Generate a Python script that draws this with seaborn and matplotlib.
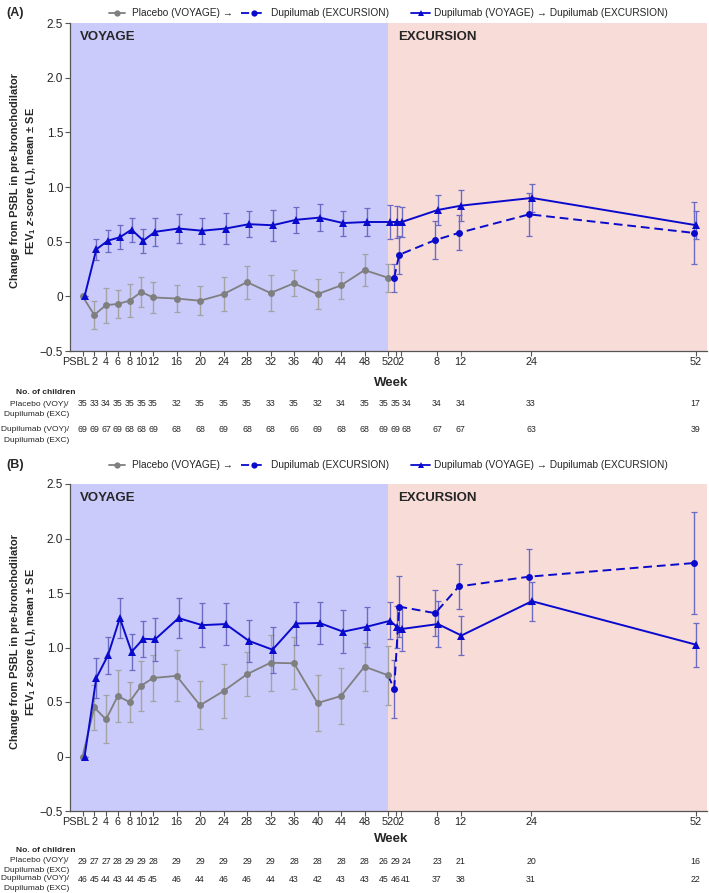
import numpy as np
import pandas as pd
import matplotlib
matplotlib.use("Agg")
import matplotlib.pyplot as plt
import matplotlib.transforms as mtransforms
from matplotlib.lines import Line2D
import seaborn as sns

# ---------------- data ----------------
voy_weeks = [0, 2, 4, 6, 8, 10, 12, 16, 20, 24, 28, 32, 36, 40, 44, 48, 52]
exc_weeks = [0, 2, 8, 12, 24, 52]
voy_labels = ['PSBL', '2', '4', '6', '8', '10', '12', '16', '20', '24', '28', '32',
              '36', '40', '44', '48', '52']
exc_labels = ['0', '2', '8', '12', '24', '52']
y_ticks = [-0.5, 0, 0.5, 1.0, 1.5, 2.0, 2.5]
y_ticklabels = ['\u22120.5', '0', '0.5', '1.0', '1.5', '2.0', '2.5']

# Panel A
a_pbo_voy = [0, -0.17, -0.08, -0.07, -0.04, 0.04, -0.01, -0.02, -0.04, 0.02, 0.13,
             0.03, 0.12, 0.02, 0.10, 0.24, 0.17]
a_pbo_voy_se = [0, 0.13, 0.16, 0.13, 0.15, 0.14, 0.14, 0.125, 0.13, 0.155, 0.15,
                0.165, 0.12, 0.135, 0.125, 0.15, 0.13]
a_dup_voy = [0, 0.43, 0.51, 0.54, 0.61, 0.51, 0.59, 0.62, 0.60, 0.62, 0.66, 0.65,
             0.70, 0.72, 0.67, 0.68, 0.68]
a_dup_voy_se = [0, 0.095, 0.10, 0.11, 0.11, 0.11, 0.13, 0.13, 0.12, 0.14, 0.12,
                0.14, 0.12, 0.12, 0.115, 0.125, 0.155]
a_dup_exc = [0.68, 0.68, 0.79, 0.83, 0.90, 0.65]
a_dup_exc_se = [0.15, 0.14, 0.14, 0.14, 0.13, 0.13]
a_pbo_exc = [0.17, 0.38, 0.515, 0.58, 0.75, 0.58]
a_pbo_exc_se = [0.13, 0.175, 0.17, 0.16, 0.195, 0.28]
a_n_pbo_voy = [35, 33, 34, 35, 35, 35, 35, 32, 35, 35, 35, 33, 35, 32, 34, 35, 35]
a_n_pbo_exc = [35, 34, 34, 34, 33, 17]
a_n_dup_voy = [69, 69, 67, 69, 68, 68, 69, 68, 68, 69, 68, 68, 66, 69, 68, 68, 69]
a_n_dup_exc = [69, 68, 67, 67, 63, 39]

# Panel B
b_pbo_voy = [0, 0.45, 0.34, 0.555, 0.50, 0.65, 0.72, 0.74, 0.47, 0.60, 0.755, 0.86,
             0.855, 0.49, 0.555, 0.825, 0.745]
b_pbo_voy_se = [0, 0.205, 0.22, 0.235, 0.18, 0.23, 0.215, 0.235, 0.22, 0.25, 0.20,
                0.255, 0.24, 0.26, 0.255, 0.22, 0.27]
b_dup_voy = [0, 0.72, 0.93, 1.27, 0.96, 1.08, 1.075, 1.27, 1.205, 1.215, 1.06, 0.98,
             1.22, 1.225, 1.145, 1.19, 1.245]
b_dup_voy_se = [0, 0.185, 0.17, 0.18, 0.165, 0.165, 0.20, 0.18, 0.20, 0.19, 0.19,
                0.21, 0.20, 0.195, 0.20, 0.185, 0.17]
b_dup_exc = [1.19, 1.17, 1.215, 1.11, 1.425, 1.025]
b_dup_exc_se = [0.19, 0.20, 0.21, 0.18, 0.18, 0.20]
b_pbo_exc = [0.62, 1.375, 1.315, 1.56, 1.65, 1.775]
b_pbo_exc_se = [0.265, 0.28, 0.21, 0.21, 0.25, 0.47]
b_n_pbo_voy = [29, 27, 27, 28, 29, 29, 28, 29, 29, 29, 29, 29, 28, 28, 28, 28, 26]
b_n_pbo_exc = [29, 24, 23, 21, 20, 16]
b_n_dup_voy = [46, 45, 44, 43, 44, 45, 45, 46, 44, 46, 46, 44, 43, 42, 43, 43, 45]
b_n_dup_exc = [46, 41, 37, 38, 31, 22]

legend_texts = ['Placebo (VOYAGE) \u2192', 'Dupilumab (EXCURSION)',
                'Dupilumab (VOYAGE) \u2192 Dupilumab (EXCURSION)']

# ---------------- style / layout ----------------
sns.set_style("ticks")
plt.rcParams['font.family'] = ['Liberation Sans', 'DejaVu Sans']
plt.rcParams['mathtext.fontset'] = 'custom'
plt.rcParams['mathtext.rm'] = 'Liberation Sans:bold'
plt.rcParams['mathtext.it'] = 'Liberation Sans:bold:italic'
plt.rcParams['mathtext.bf'] = 'Liberation Sans:bold'

W, H = 709, 893
def fx(px):
    return px / W
def fy(py):
    return 1 - py / H

GRAY = '#7f7f7f'
GRAY_ERR = '#a3a3a3'
BLUE = '#0a0acd'
BLUE_ERR = '#6b6bc4'
VOY_BG = '#cbcbfb'
EXC_BG = '#f8dcd8'

EXC_BASE = 52.35
EXC_NUDGE = np.array([1.0, -0.15, 0, 0, 0, 0])
XLIM = (-2.13, 106.3)

voy_pos = np.array(voy_weeks, dtype=float)
exc_pos = EXC_BASE + np.array(exc_weeks, dtype=float) + EXC_NUDGE
tick_pos = np.concatenate([voy_pos, exc_pos])
tick_labels = voy_labels + exc_labels

fig = plt.figure(figsize=(W / 100, H / 100), dpi=100)

panels = [
    dict(top=23, bottom=351, tag='(A)', tag_y=13,
         pbo_voy=a_pbo_voy, pbo_voy_se=a_pbo_voy_se, dup_voy=a_dup_voy,
         dup_voy_se=a_dup_voy_se, dup_exc=a_dup_exc, dup_exc_se=a_dup_exc_se,
         pbo_exc=a_pbo_exc, pbo_exc_se=a_pbo_exc_se,
         n=(a_n_pbo_voy, a_n_pbo_exc, a_n_dup_voy, a_n_dup_exc),
         week_y=383, rows=(393, 404, 415, 430, 441)),
    dict(top=484, bottom=811, tag='(B)', tag_y=465,
         pbo_voy=b_pbo_voy, pbo_voy_se=b_pbo_voy_se, dup_voy=b_dup_voy,
         dup_voy_se=b_dup_voy_se, dup_exc=b_dup_exc, dup_exc_se=b_dup_exc_se,
         pbo_exc=b_pbo_exc, pbo_exc_se=b_pbo_exc_se,
         n=(b_n_pbo_voy, b_n_pbo_exc, b_n_dup_voy, b_n_dup_exc),
         week_y=839, rows=(851, 861, 870, 879, 888)),
]

TRI_OFF_VOY = 0.35
TRI_OFF_EXC = 0.15
DASH_OFF = -0.3
DASH = (0, (4.5, 2.5))
LEG_SIZE = 7.3
TAB_SIZE = 6.0

for p in panels:
    ax = fig.add_axes([fx(70), fy(p['bottom']), fx(707) - fx(70),
                       (p['bottom'] - p['top']) / H])
    ax.set_facecolor('none')
    ax.axvspan(XLIM[0], 52, color=VOY_BG, lw=0, zorder=0)
    ax.axvspan(52, XLIM[1], color=EXC_BG, lw=0, zorder=0)

    # placebo VOYAGE (gray)
    df_pbo = pd.DataFrame({'x': voy_pos, 'y': p['pbo_voy'], 'se': p['pbo_voy_se']})
    ax.errorbar(df_pbo.x, df_pbo.y, yerr=df_pbo.se, fmt='none', ecolor=GRAY_ERR,
                elinewidth=1.0, capsize=2.2, capthick=0.9, zorder=2)
    sns.lineplot(data=df_pbo, x='x', y='y', ax=ax, color=GRAY, marker='o',
                 markersize=5, markeredgewidth=0, linewidth=1.3, errorbar=None,
                 sort=False, zorder=4)

    # dupilumab (VOYAGE -> EXCURSION), triangles
    df_dup = pd.DataFrame({
        'x': np.concatenate([voy_pos + TRI_OFF_VOY, exc_pos + TRI_OFF_EXC]),
        'y': list(p['dup_voy']) + list(p['dup_exc']),
        'se': list(p['dup_voy_se']) + list(p['dup_exc_se'])})
    ax.errorbar(df_dup.x, df_dup.y, yerr=df_dup.se, fmt='none', ecolor=BLUE_ERR,
                elinewidth=1.0, capsize=2.2, capthick=0.9, zorder=2)
    sns.lineplot(data=df_dup, x='x', y='y', ax=ax, color=BLUE, marker='^',
                 markersize=5.5, markeredgewidth=0, linewidth=1.4, errorbar=None,
                 sort=False, zorder=5)

    # placebo -> dupilumab EXCURSION (dashed)
    df_pe = pd.DataFrame({'x': exc_pos + DASH_OFF, 'y': p['pbo_exc'],
                          'se': p['pbo_exc_se']})
    ax.errorbar(df_pe.x, df_pe.y, yerr=df_pe.se, fmt='none', ecolor=BLUE_ERR,
                elinewidth=1.0, capsize=2.2, capthick=0.9, zorder=2)
    link = pd.DataFrame({'x': [voy_pos[-1], df_pe.x.iloc[0]],
                         'y': [p['pbo_voy'][-1], p['pbo_exc'][0]]})
    sns.lineplot(data=link, x='x', y='y', ax=ax, color=BLUE, linewidth=1.4,
                 linestyle=DASH, errorbar=None, sort=False, zorder=3)
    sns.lineplot(data=df_pe, x='x', y='y', ax=ax, color=BLUE, marker='o',
                 markersize=5, markeredgewidth=0, linewidth=1.4, linestyle=DASH,
                 errorbar=None, sort=False, zorder=5)

    ax.set_xlim(*XLIM)
    ax.set_ylim(-0.5, 2.5)
    ax.set_xticks(tick_pos)
    ax.set_xticklabels(tick_labels, fontsize=7.8)
    ax.set_yticks(y_ticks)
    ax.set_yticklabels(y_ticklabels, fontsize=8.5)
    ax.set_xlabel('')
    ax.set_ylabel('')
    ax.tick_params(axis='x', length=3.5, width=0.8, pad=1, color='#555555')
    ax.tick_params(axis='y', length=3.5, width=0.8, pad=1.5, color='#555555')
    # PSBL label sits slightly left of its tick
    psbl = ax.get_xticklabels()[0]
    psbl.set_transform(psbl.get_transform() +
                       mtransforms.ScaledTranslation(-0.065, 0, fig.dpi_scale_trans))
    for s in ['top', 'right']:
        ax.spines[s].set_visible(False)
    for s in ['left', 'bottom']:
        ax.spines[s].set_color('#555555')
        ax.spines[s].set_linewidth(0.9)

    # period labels
    ax.text(fx(80), fy(p['top'] + 14), 'VOYAGE', transform=fig.transFigure,
            fontsize=9.5, fontweight='bold', va='center', ha='left')
    ax.text(fx(398), fy(p['top'] + 14), 'EXCURSION', transform=fig.transFigure,
            fontsize=9.5, fontweight='bold', va='center', ha='left')

    # y label
    fig.text(fx(24), fy((p['top'] + p['bottom']) / 2 - 6),
             'Change from PSBL in pre-bronchodilator\n'
             'FEV$_{\\mathrm{1}}$ $\\mathit{z}$-score (L), mean \u00b1 SE',
             rotation=90, ha='center', va='center', fontsize=7.9,
             fontweight='bold', multialignment='center', linespacing=1.3)

    # panel tag and legend
    ty = p['tag_y']
    fig.text(fx(6), fy(ty), p['tag'], fontsize=9, fontweight='bold', va='center')
    entries = [((109, 125), GRAY, '-', 'o', legend_texts[0], 132),
               ((241, 266), BLUE, DASH, 'o', legend_texts[1], 271),
               ((411, 430), BLUE, '-', '^', legend_texts[2], 434)]
    for (x0, x1), col, ls, mk, txt, tx in entries:
        fig.add_artist(Line2D([fx(x0), fx(x1)], [fy(ty), fy(ty)],
                              transform=fig.transFigure, color=col, ls=ls, lw=1.3))
        fig.add_artist(Line2D([fx((x0 + x1) / 2)], [fy(ty)],
                              transform=fig.transFigure, color=col, marker=mk,
                              ms=4.5, mew=0, ls='none'))
        fig.text(fx(tx), fy(ty), txt, va='center', ha='left', fontsize=LEG_SIZE)

    # Week label and table
    fig.text(fx(391), fy(p['week_y']), 'Week', fontsize=9.5, fontweight='bold',
             ha='center', va='center')
    r = p['rows']
    fig.text(fx(16), fy(r[0]), 'No. of children', ha='left', va='center',
             fontsize=TAB_SIZE, fontweight='bold')
    for yy, txt in [(r[1], 'Placebo (VOY)/'), (r[2], 'Dupilumab (EXC)'),
                    (r[3], 'Dupilumab (VOY)/'), (r[4], 'Dupilumab (EXC)')]:
        fig.text(fx(69), fy(yy), txt, ha='right', va='center', fontsize=TAB_SIZE)
    trans = mtransforms.blended_transform_factory(ax.transData, fig.transFigure)
    tab_nudge = np.zeros(len(tick_pos))
    tab_nudge[len(voy_pos) - 1] = -0.7
    tab_nudge[len(voy_pos) + 1] = 0.9
    n_pv, n_pe, n_dv, n_de = p['n']
    for row_y, vals in [(r[1], list(n_pv) + list(n_pe)),
                        (r[3], list(n_dv) + list(n_de))]:
        for xp, v in zip(tick_pos + tab_nudge, vals):
            ax.text(xp, fy(row_y), str(v), transform=trans, ha='center',
                    va='center', fontsize=6.3, clip_on=False)

fig.savefig('out.png', dpi=100)
